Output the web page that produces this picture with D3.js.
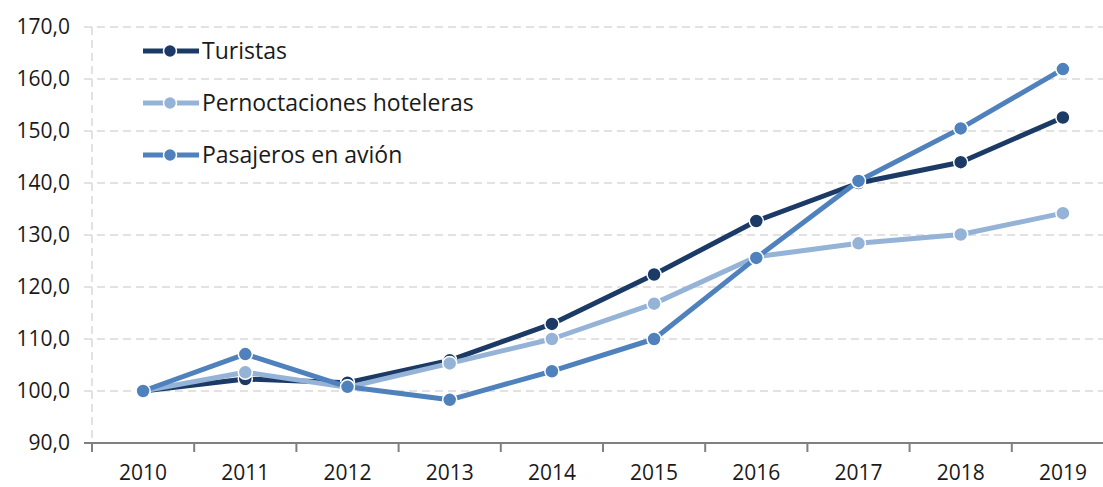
<!DOCTYPE html>
<html>
<head>
<meta charset="utf-8">
<script src="https://cdn.jsdelivr.net/npm/d3@7"></script>
<style>
  html, body { margin: 0; padding: 0; background: #fff; }
  svg { display: block; font-family: 'Open Sans', 'Noto Sans', sans-serif; }
</style>
</head>
<body>
<div id="chart"></div>
<script>
const years = ['2010', '2011', '2012', '2013', '2014', '2015', '2016', '2017', '2018', '2019'];
const turistas = [100.0, 102.3, 101.6, 105.9, 112.9, 122.4, 132.7, 140.0, 144.0, 152.6];
const pernoctaciones = [100.0, 103.6, 100.7, 105.3, 110.0, 116.8, 125.8, 128.4, 130.1, 134.2];
const pasajeros = [100.0, 107.1, 100.8, 98.3, 103.8, 110.0, 125.6, 140.4, 150.5, 161.9];
const yTicks = [90, 100, 110, 120, 130, 140, 150, 160, 170];

const series = [
  { name: 'Turistas', values: turistas, color: '#1b3a66' },
  { name: 'Pernoctaciones hoteleras', values: pernoctaciones, color: '#95b3d7' },
  { name: 'Pasajeros en avión', values: pasajeros, color: '#4f81bd' }
];

const width = 1103, height = 487;
const margin = { left: 92, right: 1114, top: 27, bottom: 443 };
const fmt = (v) => d3.format('.1f')(v).replace('.', ',');

const svg = d3.select('#chart').append('svg').attr('width', width).attr('height', height);
const x = d3.scaleBand().domain(years).range([margin.left, margin.right]);
const y = d3.scaleLinear().domain([90, 170]).range([margin.bottom, margin.top]);

// grid
svg.append('g').selectAll('line').data(yTicks.filter((t) => t > 90)).enter().append('line')
  .attr('x1', margin.left - 8).attr('x2', width).attr('y1', (t) => y(t)).attr('y2', (t) => y(t))
  .attr('stroke', '#d9d9d9').attr('stroke-width', 1.5).attr('stroke-dasharray', '8,5');
svg.append('line').attr('x1', margin.left).attr('x2', margin.left).attr('y1', y(170)).attr('y2', margin.bottom)
  .attr('stroke', '#d9d9d9').attr('stroke-width', 1.5).attr('stroke-dasharray', '8,5');

// y labels
svg.append('g').selectAll('text').data(yTicks).enter().append('text')
  .attr('x', 70).attr('y', (t) => y(t)).attr('dy', '0.35em').attr('text-anchor', 'end')
  .attr('font-size', 21).attr('fill', '#1a1a1a').text(fmt);

// x axis
const xAxis = svg.append('g').attr('transform', 'translate(0,' + margin.bottom + ')');
xAxis.append('line').attr('x1', margin.left - 8).attr('x2', width).attr('stroke', '#808080').attr('stroke-width', 2);
xAxis.selectAll('.tick').data(years.concat(['end'])).enter().append('line')
  .attr('x1', (d, i) => margin.left + i * x.bandwidth()).attr('x2', (d, i) => margin.left + i * x.bandwidth())
  .attr('y1', 0).attr('y2', 9).attr('stroke', '#808080').attr('stroke-width', 2);
xAxis.selectAll('text').data(years).enter().append('text')
  .attr('x', (d) => x(d) + x.bandwidth() / 2).attr('y', 37).attr('text-anchor', 'middle')
  .attr('font-size', 21).attr('fill', '#1a1a1a').text((d) => d);

// lines
const line = d3.line().x((v, i) => x(years[i]) + x.bandwidth() / 2).y((v) => y(v));
series.forEach((s) => {
  const g = svg.append('g');
  g.append('path').attr('d', line(s.values)).attr('fill', 'none')
    .attr('stroke', s.color).attr('stroke-width', 5).attr('stroke-linejoin', 'round');
  g.selectAll('circle').data(s.values).enter().append('circle')
    .attr('cx', (v, i) => x(years[i]) + x.bandwidth() / 2).attr('cy', (v) => y(v))
    .attr('r', 7).attr('fill', s.color).attr('stroke', '#fff').attr('stroke-width', 1.5);
});

// legend
const legend = svg.append('g');
series.forEach((s, i) => {
  const ly = 51 + i * 52;
  legend.append('line').attr('x1', 143).attr('x2', 199).attr('y1', ly).attr('y2', ly)
    .attr('stroke', s.color).attr('stroke-width', 5);
  legend.append('circle').attr('cx', 170).attr('cy', ly).attr('r', 6.5).attr('fill', s.color)
    .attr('stroke', '#fff').attr('stroke-width', 1.5);
  legend.append('text').attr('x', 202).attr('y', ly).attr('dy', '0.35em')
    .attr('font-size', 23).attr('fill', '#1a1a1a').text(s.name);
});
</script>
</body>
</html>
